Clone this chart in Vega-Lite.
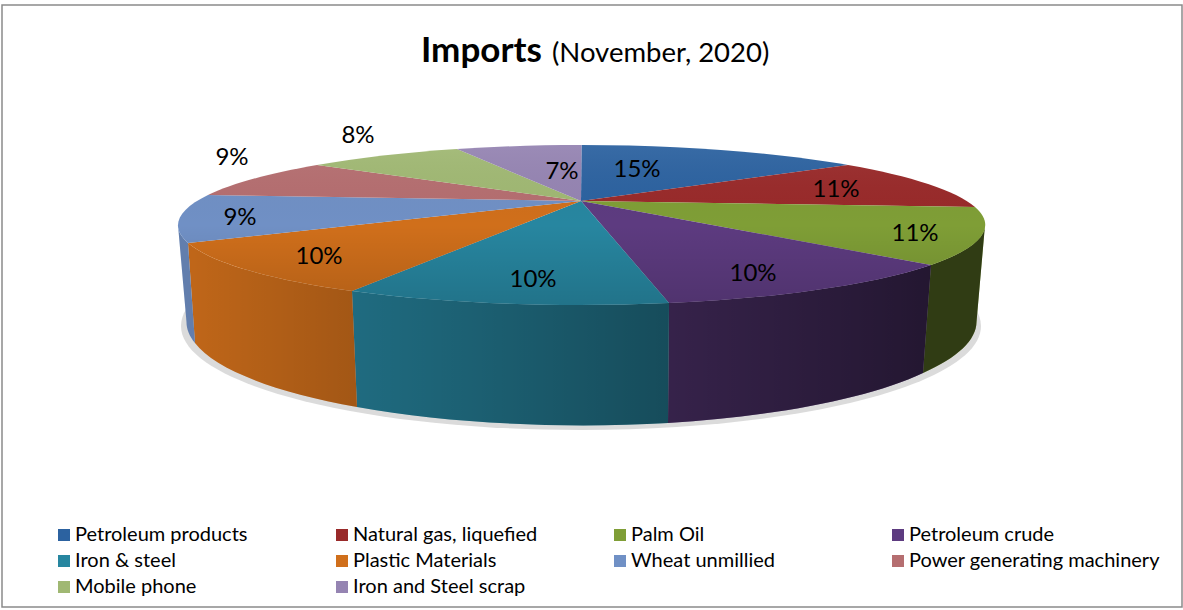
{
"$schema":"https://vega.github.io/schema/vega-lite/v6.json",
"width":1180,"height":602,
"autosize":{"type":"none"},
"padding":{"left":2,"top":5,"right":1,"bottom":3},
"background":"white",
"view":{"stroke":"#8a8a8a","strokeWidth":1.5},
"title":{"text":"Imports","anchor":"start","frame":"group","dx":419,"dy":57,"offset":-35,"baseline":"alphabetic","font":"Lato","fontSize":35,"fontWeight":"bold","color":"#000000"},
"data":{"values":[
{"name":"Petroleum products","share":15},
{"name":"Natural gas, liquefied","share":11},
{"name":"Palm Oil","share":11},
{"name":"Petroleum crude","share":10},
{"name":"Iron & steel","share":10},
{"name":"Plastic Materials","share":10},
{"name":"Wheat unmillied","share":9},
{"name":"Power generating machinery","share":9},
{"name":"Mobile phone","share":8},
{"name":"Iron and Steel scrap","share":7}
]},
"transform":[{"calculate":"datum.share+'%'","as":"label"}],
"layer":[
{"data":{"values":[{"part":"shadow"}]},
 "mark":{"type":"point","filled":true,"opacity":0.45,"size":4,"color":"#b0b0b0","strokeWidth":0,"shape":"M-411,20 A400 104 0 1 1 389,20 A400 104 0 1 1 -411,20 Z"}},
{"transform":[{"filter":"indexof(['Palm Oil','Petroleum crude','Iron & steel','Plastic Materials','Wheat unmillied'],datum.name)>=0"}],
 "mark":{"type":"point","filled":true,"opacity":1,"size":4,"strokeWidth":0},
 "encoding":{
  "shape":{"field":"name","type":"nominal","legend":null,"scale":{"domain":["Palm Oil","Petroleum crude","Iron & steel","Plastic Materials","Wheat unmillied"],"range":[
   "M393,-81 A403.5 80 0 0 1 339,-41 L331,67 A395 102 0 0 0 384.5,16 Z",
   "M339,-41 A403.5 80 0 0 1 77,-3 L76,117 A395 102 0 0 0 331,67 Z",
   "M77,-3 A403.5 80 0 0 1 -240,-15 L-235,101 A395 102 0 0 0 76,117 Z",
   "M-240,-15 A403.5 80 0 0 1 -404,-63 L-397,37 A395 102 0 0 0 -235,101 Z",
   "M-404,-63 A403.5 80 0 0 1 -414,-81 L-405.5,16 A395 102 0 0 0 -397,37 Z"]}},
  "fill":{"field":"name","type":"nominal"}
 }},
{"data":{"values":[{"part":"green side shade"}]},"mark":{"type":"point","size":4,"opacity":1,"strokeWidth":0,"shape":"M393,-81 A403.5 80 0 0 1 339,-41 L331,67 A395 102 0 0 0 384.5,16 Z","fill":"rgba(0,0,0,0.62)","filled":true}},
{"data":{"values":[{"part":"purple side shade"}]},"mark":{"type":"point","size":4,"opacity":1,"strokeWidth":0,"shape":"M339,-41 A403.5 80 0 0 1 77,-3 L76,117 A395 102 0 0 0 331,67 Z","fill":{"gradient":"linear","x1":0,"y1":0,"x2":1,"y2":0,"stops":[{"offset":0,"color":"rgba(0,0,0,0.42)"},{"offset":1,"color":"rgba(0,0,0,0.62)"}]},"filled":true}},
{"data":{"values":[{"part":"teal side shade"}]},"mark":{"type":"point","size":4,"opacity":1,"strokeWidth":0,"shape":"M77,-3 A403.5 80 0 0 1 -240,-15 L-235,101 A395 102 0 0 0 76,117 Z","fill":{"gradient":"linear","x1":0,"y1":0,"x2":1,"y2":0,"stops":[{"offset":0,"color":"rgba(0,0,0,0.2)"},{"offset":1,"color":"rgba(0,0,0,0.43)"}]},"filled":true}},
{"data":{"values":[{"part":"orange side shade"}]},"mark":{"type":"point","size":4,"opacity":1,"strokeWidth":0,"shape":"M-240,-15 A403.5 80 0 0 1 -404,-63 L-397,37 A395 102 0 0 0 -235,101 Z","fill":{"gradient":"linear","x1":0,"y1":0,"x2":1,"y2":0,"stops":[{"offset":0,"color":"rgba(0,0,0,0.08)"},{"offset":1,"color":"rgba(0,0,0,0.22)"}]},"filled":true}},
{"data":{"values":[{"part":"wheat side shade"}]},"mark":{"type":"point","size":4,"opacity":1,"strokeWidth":0,"shape":"M-404,-63 A403.5 80 0 0 1 -414,-81 L-405.5,16 A395 102 0 0 0 -397,37 Z","fill":"rgba(0,0,0,0.12)","filled":true}},
{"mark":{"type":"point","filled":true,"opacity":1,"size":4,"strokeWidth":0},
 "encoding":{
  "shape":{"field":"name","type":"nominal","legend":null,"scale":{"domain":["Natural gas, liquefied","Palm Oil","Petroleum crude","Iron & steel","Plastic Materials","Wheat unmillied","Power generating machinery","Mobile phone","Iron and Steel scrap","Petroleum products"],"range":[
   "M-11,-105 L256,-141 A403.5 80 0 0 1 383,-99 Z",
   "M-11,-105 L383,-99 A403.5 80 0 0 1 339,-41 Z",
   "M-11,-105 L339,-41 A403.5 80 0 0 1 77,-3 Z",
   "M-11,-105 L77,-3 A403.5 80 0 0 1 -240,-15 Z",
   "M-11,-105 L-240,-15 A403.5 80 0 0 1 -404,-63 Z",
   "M-11,-105 L-404,-63 A403.5 80 0 0 1 -384,-111 Z",
   "M-11,-105 L-384,-111 A403.5 80 0 0 1 -275,-141 Z",
   "M-11,-105 L-275,-141 A403.5 80 0 0 1 -135,-157 Z",
   "M-11,-105 L-135,-157 A403.5 80 0 0 1 -10.5,-161 Z",
   "M-11,-105 L-10.5,-161 A403.5 80 0 0 1 256,-141 Z"]}},
  "fill":{"field":"name","type":"nominal",
   "scale":{"domain":["Petroleum products","Natural gas, liquefied","Palm Oil","Petroleum crude","Iron & steel","Plastic Materials","Wheat unmillied","Power generating machinery","Mobile phone","Iron and Steel scrap"],"range":["#2c62a0","#992a2a","#7f9e36","#5d3b80","#2786a0","#d06f1b","#7090c5","#b56e70","#a0b873","#9584b2"]},
   "legend":{"orient":"none","direction":"horizontal","legendX":52,"legendY":520,"title":null,"columns":4,"gridAlign":"all","symbolType":"square","symbolSize":144,"symbolStrokeWidth":0,"symbolOffset":0,"labelOffset":1,"labelFont":"Lato","labelFontSize":20,"labelColor":"#000000","labelLimit":300,"columnPadding":6,"rowPadding":6,"padding":0,"labelExpr":"datum.label==='Iron & steel'?'\u00a0Iron & steel':datum.label"}}
 }},
{"data":{"values":[{"part":"top face shade"}]},"mark":{"type":"point","size":4,"opacity":1,"strokeWidth":0,"shape":"M-414,-81 A403.5 80 0 1 1 393,-81 A403.5 80 0 1 1 -414,-81 Z","fill":{"gradient":"linear","x1":0,"y1":0,"x2":0,"y2":1,"stops":[{"offset":0,"color":"rgba(255,255,255,0.06)"},{"offset":0.5,"color":"rgba(0,0,0,0)"},{"offset":1,"color":"rgba(0,0,0,0.14)"}]},"filled":true}},
{"transform":[{"filter":"datum.name==='Petroleum products'"}],"mark":{"type":"text","font":"Lato","fontSize":24,"color":"#000000","baseline":"middle","dx":45,"dy":-136},"encoding":{"text":{"field":"label"}}},
{"transform":[{"filter":"datum.name==='Natural gas, liquefied'"}],"mark":{"type":"text","font":"Lato","fontSize":24,"color":"#000000","baseline":"middle","dx":244,"dy":-116},"encoding":{"text":{"field":"label"}}},
{"transform":[{"filter":"datum.name==='Palm Oil'"}],"mark":{"type":"text","font":"Lato","fontSize":24,"color":"#000000","baseline":"middle","dx":323,"dy":-72},"encoding":{"text":{"field":"label"}}},
{"transform":[{"filter":"datum.name==='Petroleum crude'"}],"mark":{"type":"text","font":"Lato","fontSize":24,"color":"#000000","baseline":"middle","dx":161,"dy":-32},"encoding":{"text":{"field":"label"}}},
{"transform":[{"filter":"datum.name==='Iron & steel'"}],"mark":{"type":"text","font":"Lato","fontSize":24,"color":"#000000","baseline":"middle","dx":-59,"dy":-26},"encoding":{"text":{"field":"label"}}},
{"transform":[{"filter":"datum.name==='Plastic Materials'"}],"mark":{"type":"text","font":"Lato","fontSize":24,"color":"#000000","baseline":"middle","dx":-273,"dy":-49},"encoding":{"text":{"field":"label"}}},
{"transform":[{"filter":"datum.name==='Wheat unmillied'"}],"mark":{"type":"text","font":"Lato","fontSize":24,"color":"#000000","baseline":"middle","dx":-352,"dy":-88},"encoding":{"text":{"field":"label"}}},
{"transform":[{"filter":"datum.name==='Power generating machinery'"}],"mark":{"type":"text","font":"Lato","fontSize":24,"color":"#000000","baseline":"middle","dx":-360,"dy":-148},"encoding":{"text":{"field":"label"}}},
{"transform":[{"filter":"datum.name==='Mobile phone'"}],"mark":{"type":"text","font":"Lato","fontSize":24,"color":"#000000","baseline":"middle","dx":-234,"dy":-170},"encoding":{"text":{"field":"label"}}},
{"transform":[{"filter":"datum.name==='Iron and Steel scrap'"}],"mark":{"type":"text","font":"Lato","fontSize":24,"color":"#000000","baseline":"middle","dx":-30,"dy":-134},"encoding":{"text":{"field":"label"}}},
{"data":{"values":[{"t":"(November, 2020)"}]},"mark":{"type":"text","font":"Lato","fontSize":27.5,"color":"#000000","align":"left","baseline":"alphabetic","dx":-40,"dy":-244},"encoding":{"text":{"field":"t"}}}
],
"resolve":{"scale":{"shape":"independent"}}
}
